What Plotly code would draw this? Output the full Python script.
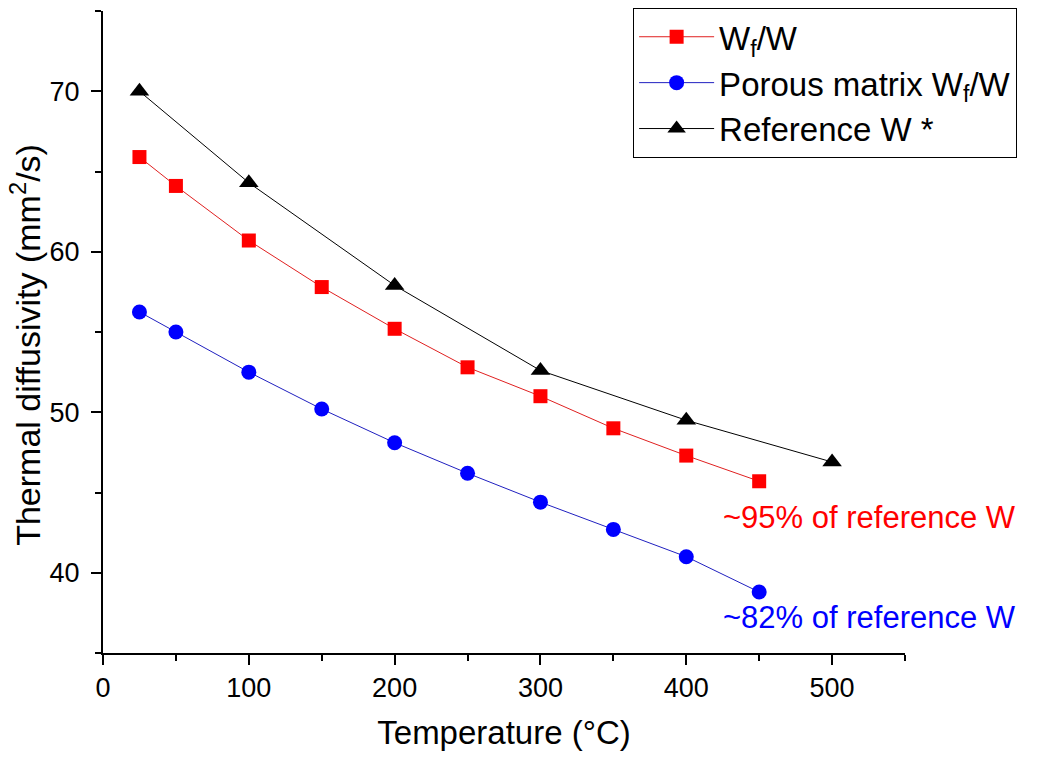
import plotly.graph_objects as go

temp_wf = [25, 50, 100, 150, 200, 250, 300, 350, 400, 450]
wf_w = [65.9, 64.1, 60.7, 57.8, 55.2, 52.8, 51.0, 49.0, 47.3, 45.7]
porous_wf_w = [56.25, 55.0, 52.5, 50.2, 48.1, 46.2, 44.4, 42.7, 41.0, 38.8]
temp_ref = [25, 100, 200, 300, 400, 500]
ref_w = [70.0, 64.3, 57.9, 52.6, 49.5, 46.9]

x_ticks = [0, 100, 200, 300, 400, 500]
y_ticks = [40, 50, 60, 70]

FONT = "Liberation Sans, Arial, sans-serif"

fig = go.Figure()
fig.add_trace(go.Scatter(
    x=temp_wf, y=wf_w, mode="lines+markers", name="W<sub>f</sub>/W",
    line=dict(color="#e02020", width=1),
    marker=dict(symbol="square", size=14, color="#ff0000"),
))
fig.add_trace(go.Scatter(
    x=temp_wf, y=porous_wf_w, mode="lines+markers", name="Porous matrix W<sub>f</sub>/W",
    line=dict(color="#2020c0", width=1),
    marker=dict(symbol="circle", size=15, color="#0000ff"),
))
fig.add_trace(go.Scatter(
    x=temp_ref, y=ref_w, mode="lines+markers", name="Reference W *",
    line=dict(color="black", width=1),
    marker=dict(symbol="triangle-up", size=17, color="black"),
))

fig.add_annotation(x=424, y=43.45, xref="x", yref="y", text="~95% of reference W",
                   showarrow=False, xanchor="left", yanchor="middle",
                   font=dict(family=FONT, size=31, color="#ff0000"))
fig.add_annotation(x=424, y=37.2, xref="x", yref="y", text="~82% of reference W",
                   showarrow=False, xanchor="left", yanchor="middle",
                   font=dict(family=FONT, size=31, color="#0000ff"))
# y-axis title
fig.add_annotation(x=-0.096, y=0.48, xref="paper", yref="paper",
                   text="Thermal diffusivity (mm<sup>2</sup>/s)", textangle=-90,
                   showarrow=False, xanchor="center", yanchor="middle",
                   font=dict(family=FONT, size=34, color="black"))

fig.update_layout(
    width=1042, height=757,
    margin=dict(l=95, r=145, t=3, b=112, autoexpand=False),
    paper_bgcolor="white", plot_bgcolor="white",
    font=dict(family=FONT, color="black"),
    legend=dict(x=0.661, y=1.005, xanchor="left", yanchor="top",
                bordercolor="black", borderwidth=1, bgcolor="white",
                font=dict(family=FONT, size=33), itemwidth=75,
                tracegroupgap=0),
    showlegend=True,
)
fig.update_xaxes(
    range=[0, 550], tickvals=x_ticks, showgrid=False, zeroline=False,
    showline=True, linecolor="black", linewidth=2, automargin=False,
    ticks="outside", ticklen=10, tickwidth=2, tickcolor="black",
    minor=dict(dtick=50, ticks="outside", ticklen=6, tickwidth=2, tickcolor="black"),
    tickfont=dict(family=FONT, size=27),
    title=dict(text="Temperature (°C)", font=dict(family=FONT, size=33), standoff=18),
)
fig.update_yaxes(
    range=[35, 75], tickvals=y_ticks, showgrid=False, zeroline=False,
    showline=True, linecolor="black", linewidth=2, automargin=False,
    ticks="outside", ticklen=10, tickwidth=2, tickcolor="black",
    minor=dict(dtick=5, ticks="outside", ticklen=6, tickwidth=2, tickcolor="black"),
    tickfont=dict(family=FONT, size=27), ticklabelstandoff=6,
)

fig.write_html("out.html")
